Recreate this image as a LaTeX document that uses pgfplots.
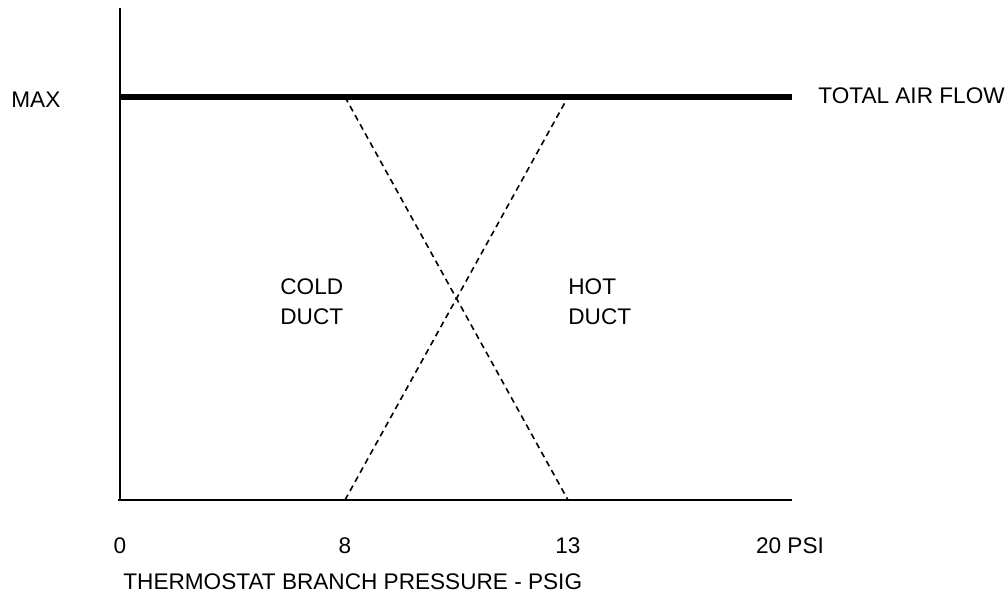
\documentclass[border=0pt]{standalone}
\usepackage{fontspec}
\setmainfont{Liberation Sans}
\usepackage{pgfplots}
\pgfplotsset{compat=1.18}
\begin{document}
\begin{tikzpicture}
\begin{axis}[
  scale only axis, width=336pt, height=246pt,
  xmin=0, xmax=672, ymin=0, ymax=492,
  clip=false,
  axis line style={draw=none},
  major tick length=0pt,
  ytick=\empty,
  xtick={0,225,448,670},
  xticklabels={0,8,13,{20 PSI}},
  xticklabel style={font=\fontsize{11.3}{13}\selectfont, anchor=center, yshift=-23pt},
]
% axis frame lines
\addplot[black, line width=1.3pt, line cap=butt] coordinates {(0,0) (0,492)};
\addplot[black, line width=1.3pt, line cap=butt] coordinates {(-2,0) (672,0)};
% total air flow
\addplot[black, line width=2.6pt, line cap=butt] coordinates {(0,403) (672,403)};
% cold duct (decreasing)
\addplot[black, line width=0.8pt, dash pattern=on 3pt off 2.2pt] coordinates {(225,403) (448,0)};
% hot duct (increasing)
\addplot[black, line width=0.8pt, dash pattern=on 3pt off 2.2pt] coordinates {(225,0) (448,403)};
\node[font=\fontsize{11.3}{13}\selectfont, anchor=west, inner sep=0pt] at (axis cs:-109,400) {MAX};
\node[font=\fontsize{11.3}{13}\selectfont, anchor=west, inner sep=0pt] at (axis cs:698,404) {TOTAL AIR FLOW};
\node[font=\fontsize{11.3}{13}\selectfont, anchor=west, inner sep=0pt] at (axis cs:160,213) {COLD};
\node[font=\fontsize{11.3}{13}\selectfont, anchor=west, inner sep=0pt] at (axis cs:160,183) {DUCT};
\node[font=\fontsize{11.3}{13}\selectfont, anchor=west, inner sep=0pt] at (axis cs:448,213) {HOT};
\node[font=\fontsize{11.3}{13}\selectfont, anchor=west, inner sep=0pt] at (axis cs:448,183) {DUCT};
\node[font=\fontsize{11.3}{13}\selectfont, anchor=west, inner sep=0pt] at (axis cs:3,-82) {THERMOSTAT BRANCH PRESSURE - PSIG};
\end{axis}
\pgfresetboundingbox
\path[use as bounding box] (-60pt,-47pt) rectangle (444pt,250pt);
\end{tikzpicture}
\end{document}
